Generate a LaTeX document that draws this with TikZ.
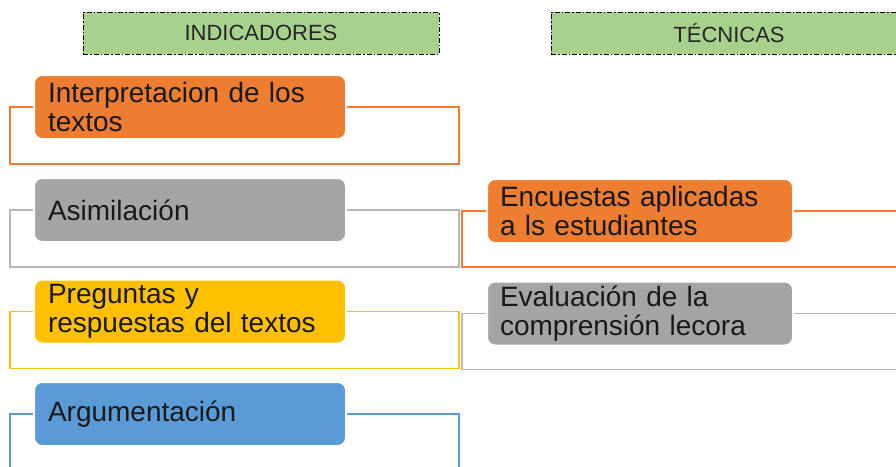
\documentclass[tikz,border=0pt]{standalone}
\usepackage{fontspec}
\setmainfont{Liberation Sans}

\definecolor{hdrgreen}{HTML}{A9D18E}
\definecolor{boxorange}{HTML}{ED7D31}
\definecolor{boxgray}{HTML}{A5A5A5}
\definecolor{boxyellow}{HTML}{FFC000}
\definecolor{boxblue}{HTML}{5B9BD5}

\tikzset{
  header/.style={draw=black, fill=hdrgreen, line width=1pt,
    dash pattern=on 5pt off 2pt on 1.5pt off 2pt,
    minimum width=356pt, minimum height=42pt,
    text=black!85, font=\fontsize{22}{24}\selectfont},
  item/.style={draw=white, line width=2pt, rounded corners=8pt,
    minimum height=64pt, align=left, text=black!90,
    font=\fontsize{28}{29}\selectfont},
  frame/.style={line width=1.1pt},
}

\begin{document}
\begin{tikzpicture}[x=1pt,y=-1pt]

      \useasboundingbox (0,0) rectangle (896,466);
      \clip (0,0) rectangle (896,466);

      \node[header] (ind) at (261,33) {INDICADORES};
      \node[header] (tec) at (729,33) {TÉCNICAS};

      \begin{scope}[every node/.style={item, text width=284pt, inner xsep=14pt}]
        \node[fill=boxorange] (interp) at (190,107)   {Interpretacion de los\\textos};
        \node[fill=boxgray]   (asim)   at (190,210)   {Asimilación};
        \node[fill=boxyellow] (preg)   at (190,311.5) {Preguntas y\\respuestas del textos};
        \node[fill=boxblue]   (argu)   at (190,414)   {Argumentación};
      \end{scope}

      \begin{scope}[every node/.style={item, text width=280pt, inner xsep=13pt}]
        \node[fill=boxorange] (encu) at (640,211)   {Encuestas aplicadas\\a ls estudiantes};
        \node[fill=boxgray]   (eval) at (640,313.5) {Evaluación de la\\comprensión lecora};
      \end{scope}

      % marcos
      \draw[boxorange, frame] (interp.west) -- ++(-23,0) |- ([yshift=-24pt]interp.south) -| ([xshift=112pt]interp.east) -- (interp.east);
      \draw[boxgray!80, frame] (asim.west) -- ++(-23,0) |- ([yshift=-24pt]asim.south) -| ([xshift=112pt]asim.east) -- (asim.east);
      \draw[boxyellow, frame] (preg.west) -- ++(-23,0) |- ([yshift=-24pt]preg.south) -| ([xshift=112pt]preg.east) -- (preg.east);
      \draw[boxblue, frame] (argu.west) -- ++(-23,0) |- ([yshift=-24pt]argu.south) -| ([xshift=112pt]argu.east) -- (argu.east);

      \draw[boxorange, frame] (encu.west) -- ++(-24,0) |- ([yshift=-23pt]encu.south) -| ([xshift=130pt]encu.east) -- (encu.east);
      \draw[boxgray!80, frame] (eval.west) -- ++(-24,0) |- ([yshift=-23pt]eval.south) -| ([xshift=130pt]eval.east) -- (eval.east);

    \end{tikzpicture}
\end{document}
